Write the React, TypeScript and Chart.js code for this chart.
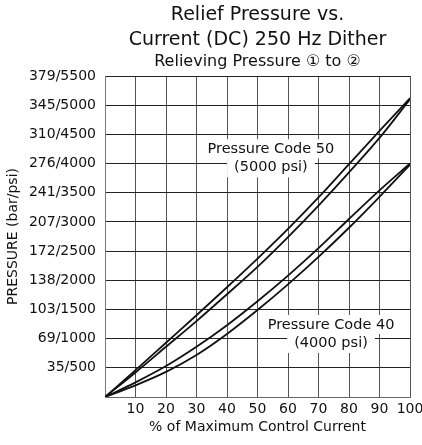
import React, { useEffect, useRef } from 'react';
import { Chart, registerables } from 'chart.js';

Chart.register(...registerables);

// ---- data ----
const currentPct = [0, 10, 20, 30, 40, 50, 60, 70, 80, 90, 100];
const code50Upper = [0, 460, 930, 1400, 1880, 2370, 2880, 3420, 3990, 4560, 5120];
const code50Lower = [0, 420, 860, 1300, 1760, 2230, 2740, 3280, 3850, 4440, 5100];
const code40Upper = [0, 250, 530, 860, 1230, 1640, 2080, 2550, 3050, 3540, 4000];
const code40Lower = [0, 200, 430, 720, 1080, 1490, 1930, 2400, 2900, 3430, 3980];

const yTickValues = [0, 500, 1000, 1500, 2000, 2500, 3000, 3500, 4000, 4500, 5000, 5500];
const yTickLabels = ['', '35/500', '69/1000', '103/1500', '138/2000', '172/2500', '207/3000', '241/3500', '276/4000', '310/4500', '345/5000', '379/5500'];
const xTickValues = [0, 10, 20, 30, 40, 50, 60, 70, 80, 90, 100];
const xTickLabels = ['', '10', '20', '30', '40', '50', '60', '70', '80', '90', '100'];

const titleLines = ['Relief Pressure vs.', 'Current (DC) 250 Hz Dither', 'Relieving Pressure \u2460 to \u2461'];
const xAxisTitle = '% of Maximum Control Current';
const yAxisTitle = 'PRESSURE (bar/psi)';
const code50Label = ['Pressure Code 50', '(5000 psi)'];
const code50LabelAt = [54.4, 4090];
const code40Label = ['Pressure Code 40', '(4000 psi)'];
const code40LabelAt = [74.1, 1080];

const FONT = '"DejaVu Sans", "Liberation Sans", Arial, sans-serif';

function toPoints(ys: number[]) {
  return currentPct.map((x, i) => ({ x, y: ys[i] }));
}

const textPlugin = {
  id: 'textPlugin',
  afterDatasetsDraw(chart: any) {
    const { ctx, scales } = chart;
    const drawLabel = (lines: string[], at: number[]) => {
      const cx = scales.x.getPixelForValue(at[0]);
      const cy = scales.y.getPixelForValue(at[1]);
      ctx.save();
      ctx.font = `14.5px ${FONT}`;
      ctx.textAlign = 'center';
      ctx.textBaseline = 'middle';
      const w1 = ctx.measureText(lines[0]).width;
      const w2 = ctx.measureText(lines[1]).width;
      ctx.fillStyle = '#fff';
      ctx.fillRect(cx - w1 / 2 - 4, cy - 19, w1 + 8, 19);
      ctx.fillRect(cx - w2 / 2 - 7, cy - 1, w2 + 14, 20);
      ctx.fillStyle = '#111';
      ctx.fillText(lines[0], cx, cy - 9);
      ctx.fillText(lines[1], cx, cy + 9);
      ctx.restore();
    };
    drawLabel(code50Label, code50LabelAt);
    drawLabel(code40Label, code40LabelAt);
  },
  afterDraw(chart: any) {
    const { ctx, chartArea } = chart;
    const midX = (chartArea.left + chartArea.right) / 2;
    const midY = (chartArea.top + chartArea.bottom) / 2;
    ctx.save();
    ctx.fillStyle = '#111';
    ctx.textAlign = 'center';
    ctx.textBaseline = 'alphabetic';
    ctx.font = `19px ${FONT}`;
    ctx.fillText(titleLines[0], midX, chartArea.top - 56);
    ctx.fillText(titleLines[1], midX, chartArea.top - 31);
    ctx.font = `16px ${FONT}`;
    ctx.fillText(titleLines[2], midX, chartArea.top - 10);
    ctx.font = `14px ${FONT}`;
    ctx.fillText(xAxisTitle, midX, chartArea.bottom + 34);
    ctx.translate(chartArea.left - 92, midY);
    ctx.rotate(-Math.PI / 2);
    ctx.textBaseline = 'middle';
    ctx.fillText(yAxisTitle, 0, 0);
    ctx.restore();
  },
};

export default function App() {
  const canvasRef = useRef<HTMLCanvasElement | null>(null);

  useEffect(() => {
    if (!canvasRef.current) return;
    const lineStyle = {
      borderColor: '#111',
      borderWidth: 1.8,
      pointRadius: 0,
      fill: false,
      cubicInterpolationMode: 'monotone' as const,
    };
    const chart = new Chart(canvasRef.current, {
      type: 'line',
      data: {
        datasets: [
          { label: 'Code 50 A', data: toPoints(code50Upper), ...lineStyle },
          { label: 'Code 50 B', data: toPoints(code50Lower), ...lineStyle },
          { label: 'Code 40 A', data: toPoints(code40Upper), ...lineStyle },
          { label: 'Code 40 B', data: toPoints(code40Lower), ...lineStyle },
        ],
      },
      options: {
        animation: false,
        responsive: false,
        layout: { padding: { top: 76, right: 12, left: 0, bottom: 0 } },
        plugins: { legend: { display: false }, title: { display: false }, tooltip: { enabled: false } },
        scales: {
          x: {
            type: 'linear',
            min: 0,
            max: 100,
            afterBuildTicks: (s: any) => {
              s.ticks = xTickValues.map((v) => ({ value: v }));
            },
            afterFit: (s: any) => {
              s.height = 48;
              s.paddingLeft = 0;
              s.paddingRight = 0;
            },
            grid: { color: '#555', lineWidth: 1, drawTicks: false },
            border: { color: '#666', width: 1 },
            ticks: {
              autoSkip: false,
              maxRotation: 0,
              padding: 4,
              color: '#111',
              font: { family: FONT, size: 14 },
              callback: (v: any) => xTickLabels[xTickValues.indexOf(Number(v))] ?? '',
            },
          },
          y: {
            type: 'linear',
            min: 0,
            max: 5500,
            afterBuildTicks: (s: any) => {
              s.ticks = yTickValues.map((v) => ({ value: v }));
            },
            afterFit: (s: any) => {
              s.width = 105;
              s.paddingTop = 0;
              s.paddingBottom = 0;
            },
            grid: { color: '#222', lineWidth: 1, drawTicks: false },
            border: { color: '#777', width: 1 },
            ticks: {
              autoSkip: false,
              padding: 9,
              color: '#111',
              font: { family: FONT, size: 14 },
              callback: (v: any) => yTickLabels[yTickValues.indexOf(Number(v))] ?? '',
            },
          },
        },
      },
      plugins: [textPlugin],
    });
    return () => chart.destroy();
  }, []);

  return (
    <div style={{ position: 'absolute', left: 0, top: 0, width: 422, height: 445, background: '#fff' }}>
      <canvas ref={canvasRef} width={422} height={445} style={{ display: 'block', width: 422, height: 445 }} />
    </div>
  );
}
